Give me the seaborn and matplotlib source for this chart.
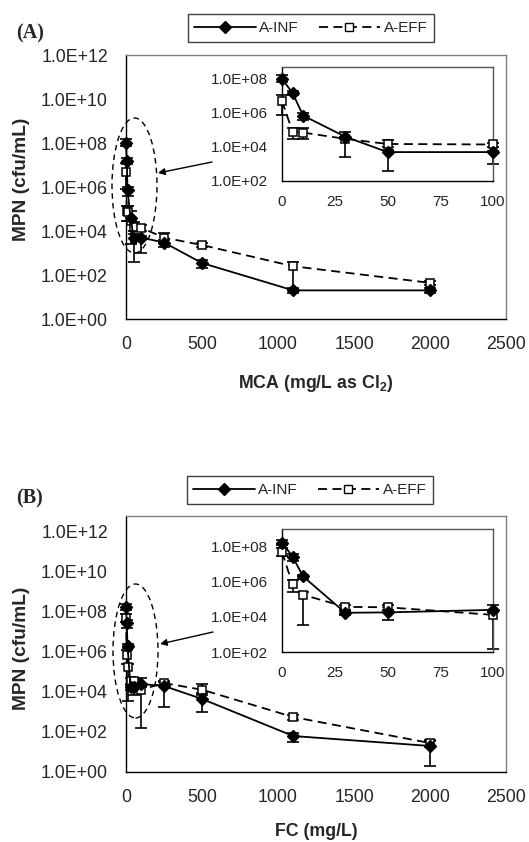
import numpy as np
import pandas as pd
import matplotlib
matplotlib.use("Agg")
import matplotlib.pyplot as plt
import seaborn as sns
from matplotlib.ticker import FuncFormatter, FixedLocator, NullLocator
from matplotlib.patches import Ellipse, FancyArrowPatch
from matplotlib.lines import Line2D

# ---------------- data ----------------
dose = [0, 5, 10, 30, 50, 100, 250, 500, 1100, 2000]

# Panel A (MCA)
a_inf = [1.0e8, 1.5e7, 7.0e5, 4.0e4, 5.0e3, 5.0e3, 3.0e3, 3.5e2, 2.0e1, 2.0e1]
a_inf_lo = [7.0e7, 1.1e7, 4.0e5, 3.0e4, 4.0e2, 1.0e3, 1.8e3, 2.0e2, 1.5e1, 1.5e1]
a_inf_hi = [1.6e8, 2.0e7, 1.0e6, 8.0e4, 7.0e3, 6.0e3, 4.0e3, 5.0e2, 2.5e1, 2.5e1]
a_eff = [5.0e6, 8.0e4, 7.0e4, 3.0e4, 1.5e4, 1.4e4, 5.0e3, 2.3e3, 2.5e2, 4.4e1]
a_eff_lo = [8.0e5, 3.0e4, 3.0e4, 2.5e3, 1.0e4, 1.0e4, 3.0e3, 1.8e3, 2.0e1, 3.5e1]
a_eff_hi = [1.2e7, 1.3e5, 1.3e5, 4.0e4, 2.5e4, 1.8e4, 8.0e3, 2.8e3, 4.0e2, 5.5e1]

# Panel B (FC)
b_inf = [1.7e8, 2.7e7, 2.0e6, 1.7e4, 1.8e4, 2.5e4, 2.0e4, 4.5e3, 6.3e1, 2.0e1]
b_inf_lo = [1.2e8, 1.5e7, 1.5e6, 1.3e4, 7.0e3, 1.8e4, 1.8e3, 1.0e3, 3.0e1, 2.0e0]
b_inf_hi = [2.5e8, 4.0e7, 2.5e6, 2.3e4, 2.5e4, 5.0e4, 3.0e4, 7.0e3, 9.0e1, 3.5e1]
b_eff = [5.0e7, 7.0e5, 1.8e5, 3.7e4, 3.5e4, 1.3e4, 2.8e4, 1.3e4, 5.6e2, 2.8e1]
b_eff_lo = [3.0e7, 2.5e5, 3.5e3, 2.5e4, 2.5e4, 1.5e2, 2.0e4, 9.0e3, 4.0e2, 1.8e1]
b_eff_hi = [8.0e7, 1.2e6, 2.5e5, 5.0e4, 4.5e4, 2.0e4, 3.5e4, 2.5e4, 7.0e2, 4.0e1]

series_names = ["A-INF", "A-EFF"]
main_yticks = [1e0, 1e2, 1e4, 1e6, 1e8, 1e10, 1e12]
inset_yticks = [1e2, 1e4, 1e6, 1e8]
main_xticks = [0, 500, 1000, 1500, 2000, 2500]
inset_xticks = [0, 25, 50, 75, 100]

# ---------------- style ----------------
sns.set_style("white")
plt.rcParams['font.family'] = ['Liberation Sans', 'DejaVu Sans']
plt.rcParams['mathtext.fontset'] = 'custom'
plt.rcParams['mathtext.bf'] = 'Liberation Sans:bold'
plt.rcParams['mathtext.rm'] = 'Liberation Sans'

W, H = 529, 842
fig = plt.figure(figsize=(W / 100, H / 100), dpi=100)


def rect(l, t, r, b):
    return [l / W, 1 - b / H, (r - l) / W, (b - t) / H]


fmt = FuncFormatter(lambda v, p: f"{v:.1E}")
DASH = (0, (5, 3))


def draw_series(ax, inf, inf_lo, inf_hi, eff, eff_lo, eff_hi, xmax):
    df = pd.DataFrame({"dose": dose, "inf": inf, "eff": eff,
                       "inf_lo": inf_lo, "inf_hi": inf_hi,
                       "eff_lo": eff_lo, "eff_hi": eff_hi})
    df = df[df["dose"] <= xmax]
    for col, lo, hi in [("eff", "eff_lo", "eff_hi"), ("inf", "inf_lo", "inf_hi")]:
        ax.errorbar(df["dose"], df[col],
                    yerr=[df[col] - df[lo], df[hi] - df[col]],
                    fmt='none', ecolor='black', elinewidth=1.2,
                    capsize=4, capthick=1.2, zorder=2, clip_on=False)
    sns.lineplot(data=df, x="dose", y="eff", ax=ax, color='black', lw=1.3,
                 linestyle=DASH, marker='s', markersize=6,
                 markerfacecolor='white', markeredgecolor='black',
                 markeredgewidth=1.1, errorbar=None, legend=False,
                 zorder=3, clip_on=False)
    sns.lineplot(data=df, x="dose", y="inf", ax=ax, color='black', lw=1.3,
                 marker='D', markersize=6.5, markerfacecolor='black',
                 markeredgecolor='black', markeredgewidth=1.0,
                 errorbar=None, legend=False, zorder=4, clip_on=False)


def style_main(ax, ytop):
    ax.set_yscale('log')
    ax.set_xlim(0, 2500)
    ax.set_ylim(1, ytop)
    ax.yaxis.set_major_locator(FixedLocator(main_yticks))
    ax.yaxis.set_minor_locator(NullLocator())
    ax.yaxis.set_major_formatter(fmt)
    ax.xaxis.set_major_locator(FixedLocator(main_xticks))
    ax.tick_params(axis='y', direction='out', length=6, width=1, labelsize=12.8, pad=7)
    ax.tick_params(axis='x', direction='out', length=5, width=1, labelsize=12.8, pad=7)
    ax.set_xlabel("")
    ax.set_ylabel("")
    for s in ['left', 'bottom']:
        ax.spines[s].set_color('black')
        ax.spines[s].set_linewidth(1.0)
    for s in ['top', 'right']:
        ax.spines[s].set_color('#7f7f7f')
        ax.spines[s].set_linewidth(1.0)
    ax.patch.set_alpha(0)


def style_inset(ax, ytop):
    ax.set_yscale('log')
    ax.set_xlim(0, 100)
    ax.set_ylim(1e2, ytop)
    ax.yaxis.set_major_locator(FixedLocator(inset_yticks))
    ax.yaxis.set_minor_locator(NullLocator())
    ax.yaxis.set_major_formatter(fmt)
    ax.xaxis.set_major_locator(FixedLocator(inset_xticks))
    ax.tick_params(axis='y', direction='out', length=4, width=1, labelsize=11, pad=6)
    ax.tick_params(axis='x', direction='in', length=4, width=1, labelsize=11, pad=10)
    ax.set_xlabel("")
    ax.set_ylabel("")
    for s in ['left', 'bottom']:
        ax.spines[s].set_color('black')
        ax.spines[s].set_linewidth(1.0)
    for s in ['top', 'right']:
        ax.spines[s].set_color('#555555')
        ax.spines[s].set_linewidth(1.0)
    ax.set_facecolor('white')


legend_handles = [
    Line2D([], [], color='black', lw=1.3, marker='D', markersize=6.5,
           markerfacecolor='black', markeredgecolor='black'),
    Line2D([], [], color='black', lw=1.3, linestyle=DASH, marker='s', markersize=6,
           markerfacecolor='white', markeredgecolor='black'),
]


def panel(top_main, bottom_main, ytop_main, inset_box, ytop_inset, data,
          legend_center, label_y, tag, tag_y, xlabel, xlabel_y, ell, arrow):
    axm = fig.add_axes(rect(126, top_main, 506, bottom_main))
    draw_series(axm, *data, xmax=2500)
    style_main(axm, ytop_main)

    axi = fig.add_axes(rect(*inset_box))
    draw_series(axi, *data, xmax=100)
    style_inset(axi, ytop_inset)

    leg = fig.legend(legend_handles, series_names, loc='center',
                     bbox_to_anchor=(legend_center[0] / W, 1 - legend_center[1] / H),
                     ncol=2, frameon=True, fancybox=False, framealpha=1,
                     edgecolor='#404040', fontsize=11, handlelength=4,
                     handletextpad=0.25, columnspacing=1.3, borderpad=0.45)
    leg.get_frame().set_linewidth(1.0)

    fig.text(22 / W, 1 - label_y / H, "MPN (cfu/mL)", rotation=90,
             ha='center', va='center', fontsize=13.8, fontweight='bold')
    fig.text(16 / W, 1 - tag_y / H, tag, ha='left', va='center',
             fontsize=14.5, fontweight='bold', family='Liberation Serif')
    fig.text(316 / W, 1 - xlabel_y / H, xlabel, ha='center', va='center',
             fontsize=12.8, fontweight='bold')

    cx, cy, ew, eh = ell
    fig.add_artist(Ellipse((cx / W, 1 - cy / H), ew / W, eh / H,
                           transform=fig.transFigure, fill=False,
                           edgecolor='black', lw=1.0, linestyle=(0, (4, 3))))
    (x0, y0), (x1, y1) = arrow
    fig.add_artist(FancyArrowPatch((x0 / W, 1 - y0 / H), (x1 / W, 1 - y1 / H),
                                   transform=fig.transFigure,
                                   arrowstyle='-|>', mutation_scale=10,
                                   color='black', lw=1.0, shrinkA=0, shrinkB=0))


panel(55, 319, 1e12, (282, 67, 493, 181), 10 ** 8.7,
      (a_inf, a_inf_lo, a_inf_hi, a_eff, a_eff_lo, a_eff_hi),
      (311, 28), 179, "(A)", 33, r"MCA (mg/L as Cl$_{\mathbf{2}}$)", 383,
      (134.5, 185.5, 45, 135), ((212, 162), (158, 173)))

panel(516, 772, 10 ** 12.8, (282, 529, 493, 652), 1e9,
      (b_inf, b_inf_lo, b_inf_hi, b_eff, b_eff_lo, b_eff_hi),
      (310, 490), 648, "(B)", 498, "FC (mg/L)", 832,
      (135.5, 651, 45, 134), ((213, 632), (160, 644)))

fig.savefig("out.png", dpi=100, facecolor='white')
